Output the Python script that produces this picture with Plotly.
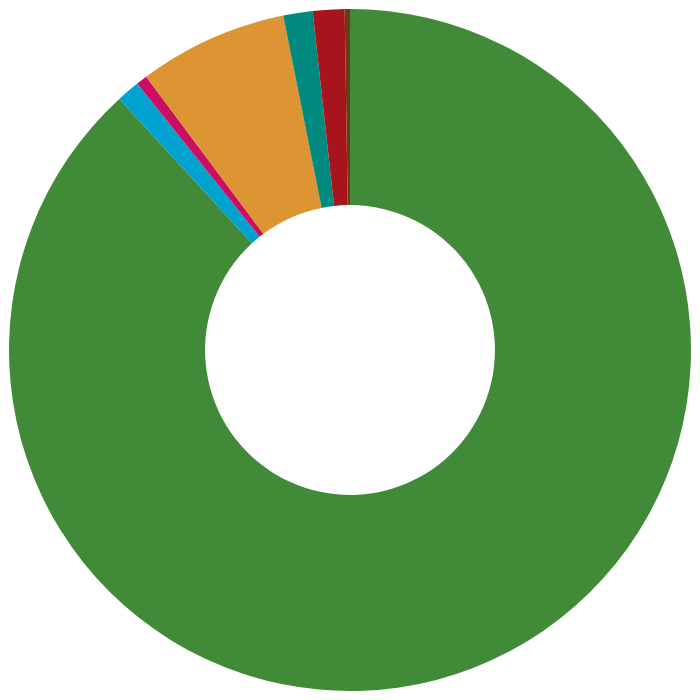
import plotly.graph_objects as go

# fatias no sentido horario a partir do topo
labels = ["A", "B", "C", "D", "E", "F", "G"]
values = [88.2, 1.1, 0.53, 7.06, 1.39, 1.5, 0.25]
colors = ["#408A38", "#00A3CF", "#CC0E63", "#DD9433", "#008A80", "#A8141B", "#6B3A1C"]

fig = go.Figure()
fig.add_trace(go.Pie(
    labels=labels,
    values=values,
    hole=0.425,
    sort=False,
    direction="clockwise",
    rotation=0,
    marker=dict(colors=colors, line=dict(width=0)),
    textinfo="none",
    hoverinfo="label+percent",
))

fig.update_layout(
    width=700,
    height=700,
    showlegend=False,
    margin=dict(l=9, r=9, t=9, b=9),
    paper_bgcolor="white",
    plot_bgcolor="white",
)
# tira a margem padrao do body para o grafico ocupar a janela toda
fig.write_html(
    "out.html",
    config={"displayModeBar": False},
    post_script="document.body.style.margin='0';",
)
